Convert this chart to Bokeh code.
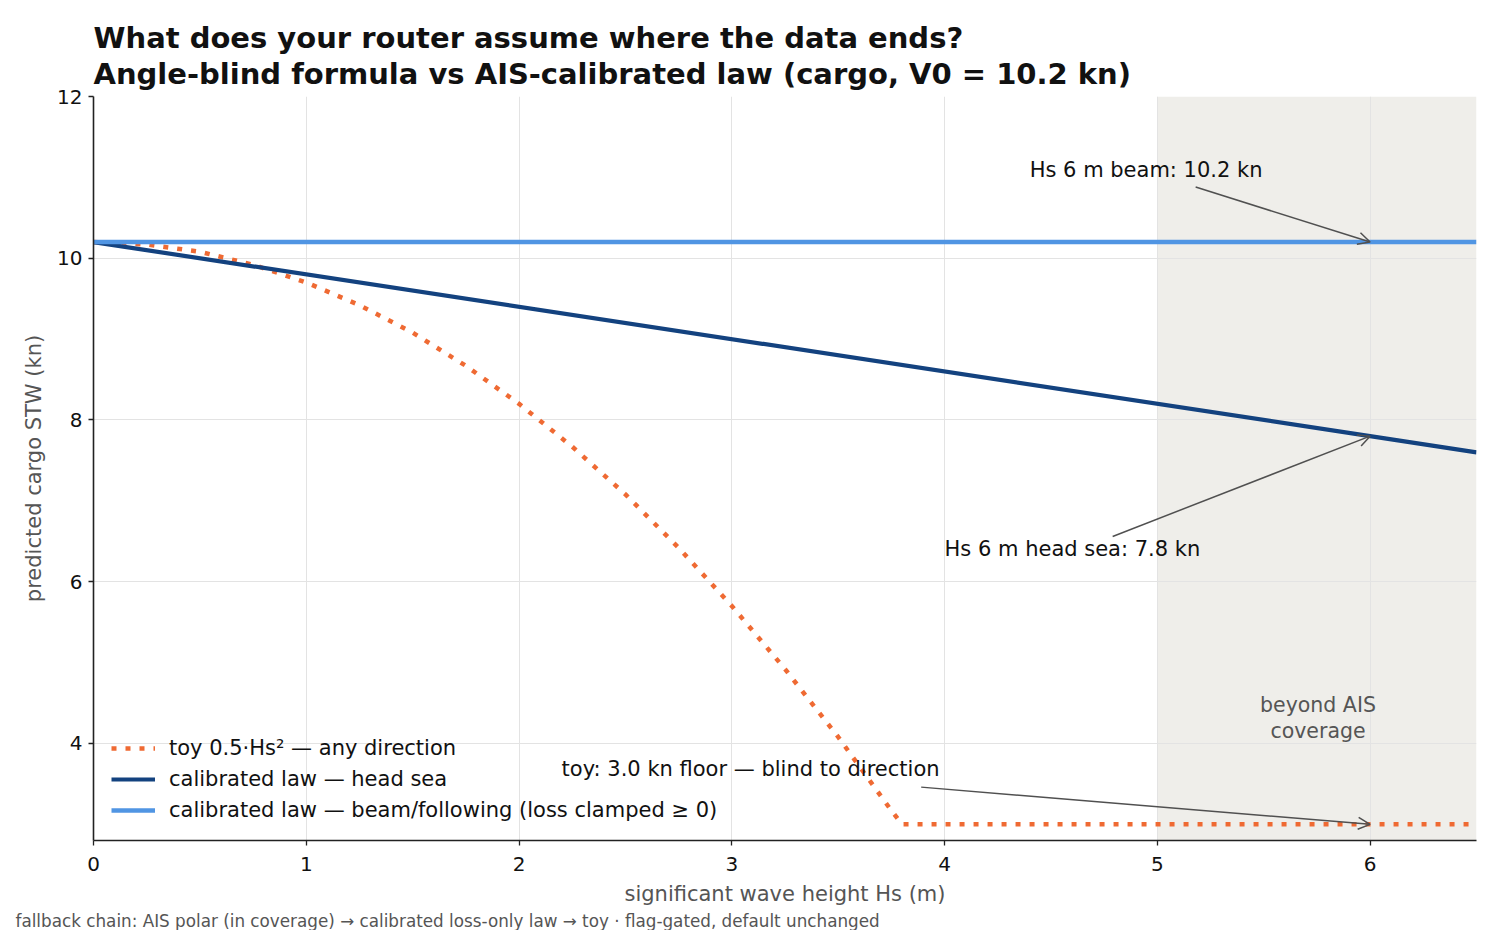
from bokeh.plotting import figure
from bokeh.models import (BoxAnnotation, Arrow, OpenHead, Label, Legend, LegendItem,
                          Title, FixedTicker, Range1d)
from bokeh.embed import file_html
from bokeh.resources import INLINE

# --- data -------------------------------------------------------------
V0 = 10.2
hs_toy = [0.0, 0.25, 0.5, 0.75, 1.0, 1.25, 1.5, 1.75, 2.0, 2.25, 2.5, 2.75,
          3.0, 3.25, 3.5, 3.75, 3.8, 4.5, 5.0, 5.5, 6.0, 6.5]
stw_toy = [10.2, 10.17, 10.08, 9.92, 9.7, 9.42, 9.08, 8.67, 8.2, 7.67, 7.08, 6.42,
           5.7, 4.92, 4.08, 3.17, 3.0, 3.0, 3.0, 3.0, 3.0, 3.0]
hs_law = [0.0, 6.0, 6.5]
stw_head = [10.2, 7.8, 7.6]
stw_beam = [10.2, 10.2, 10.2]
coverage_edge = 5.0
x_ticks = [0, 1, 2, 3, 4, 5, 6]
y_ticks = [4, 6, 8, 10, 12]

FONT = "DejaVu Sans"
ORANGE = "#ef6a33"
NAVY = "#13427f"
SKY = "#5095e3"
ARROW = "#505050"

p = figure(width=1500, height=930, output_backend="svg", toolbar_location=None,
           x_range=Range1d(0, 6.5), y_range=Range1d(2.8, 12),
           min_border_left=93, min_border_right=24, min_border_top=96,
           min_border_bottom=86)
p.title = None
p.outline_line_color = None
p.background_fill_color = "white"

# two-line bold heading
p.add_layout(Title(text="What does your router assume where the data ends?\n"
                        "Angle-blind formula vs AIS-calibrated law (cargo, V0 = 10.2 kn)",
                   align="left", text_font=FONT, text_font_size="29px",
                   text_font_style="bold", text_color="#111111", standoff=11,
                   text_line_height=1.05), "above")

# footer note
p.add_layout(Title(text="fallback chain: AIS polar (in coverage) \u2192 calibrated loss-only law \u2192 toy \u00b7 flag-gated, default unchanged",
                   align="left", text_font=FONT, text_font_size="16.8px",
                   text_font_style="normal", text_color="#555555", offset=-78,
                   standoff=0, text_line_height=0.85), "below")

# shaded region beyond AIS coverage
p.add_layout(BoxAnnotation(left=coverage_edge, right=6.5, fill_color="#efeeea",
                           fill_alpha=1.0, line_color=None, level="image"))

# grid
p.xgrid.ticker = FixedTicker(ticks=x_ticks)
p.ygrid.ticker = FixedTicker(ticks=y_ticks)
p.grid.grid_line_color = "#e3e3e3"
p.grid.grid_line_width = 1

# axes
for ax in (p.xaxis[0], p.yaxis[0]):
    ax.axis_line_color = "#222222"
    ax.axis_line_width = 1.6
    ax.major_tick_line_color = "#222222"
    ax.major_tick_line_width = 1.3
    ax.major_tick_out = 5
    ax.major_tick_in = 0
    ax.minor_tick_line_color = None
    ax.major_label_text_font = FONT
    ax.major_label_text_font_size = "20px"
    ax.major_label_text_color = "#111111"
    ax.axis_label_text_font = FONT
    ax.axis_label_text_font_size = "21px"
    ax.axis_label_text_font_style = "normal"
    ax.axis_label_text_color = "#555555"
p.xaxis.ticker = FixedTicker(ticks=x_ticks)
p.yaxis.ticker = FixedTicker(ticks=y_ticks)
p.xaxis.axis_label = "significant wave height Hs (m)"
p.yaxis.axis_label = "predicted cargo STW (kn)"
p.xaxis.major_label_standoff = 11
p.yaxis.major_label_standoff = 6
p.xaxis.axis_label_standoff = 8
p.yaxis.axis_label_standoff = 8

# curves
r_toy = p.line(hs_toy, stw_toy, line_color=ORANGE, line_width=4.5, line_dash="5 9")
r_head = p.line(hs_law, stw_head, line_color=NAVY, line_width=4.2)
r_beam = p.line(hs_law, stw_beam, line_color=SKY, line_width=4.5)

legend = Legend(items=[
    LegendItem(label="toy 0.5\u00b7Hs\u00b2 \u2014 any direction", renderers=[r_toy]),
    LegendItem(label="calibrated law \u2014 head sea", renderers=[r_head]),
    LegendItem(label="calibrated law \u2014 beam/following (loss clamped \u2265 0)", renderers=[r_beam]),
], location="bottom_left")
legend.background_fill_alpha = 0
legend.border_line_color = None
legend.label_text_font = FONT
legend.label_text_font_size = "21px"
legend.label_text_color = "#111111"
legend.glyph_width = 44
legend.glyph_height = 22
legend.label_height = 22
legend.spacing = 7
legend.label_standoff = 14
legend.padding = 4
legend.margin = 18
p.add_layout(legend)

# annotations with arrows
notes = [
    ("Hs 6 m beam: 10.2 kn", 4.40, 11.09, 5.18, 10.88, 6.0, V0),
    ("Hs 6 m head sea: 7.8 kn", 4.00, 6.40, 4.79, 6.56, 6.0, stw_head[1]),
    ("toy: 3.0 kn floor \u2014 blind to direction", 2.20, 3.69, 3.89, 3.46, 6.0, 3.0),
]
for txt, tx, ty, sx, sy, ex, ey in notes:
    p.add_layout(Arrow(end=OpenHead(size=12, line_color=ARROW, line_width=1.5),
                       x_start=sx, y_start=sy, x_end=ex, y_end=ey,
                       line_color=ARROW, line_width=1.5))
    p.add_layout(Label(x=tx, y=ty, text=txt, text_font=FONT, text_font_size="21px",
                       text_color="#111111", text_baseline="middle", text_align="left"))

p.add_layout(Label(x=5.755, y=4.32, text="beyond AIS\ncoverage", text_font=FONT,
                   text_font_size="20.5px", text_color="#555555", text_align="center",
                   text_baseline="middle", text_line_height=1.08))

open("out.html", "w").write(file_html(p, INLINE))
